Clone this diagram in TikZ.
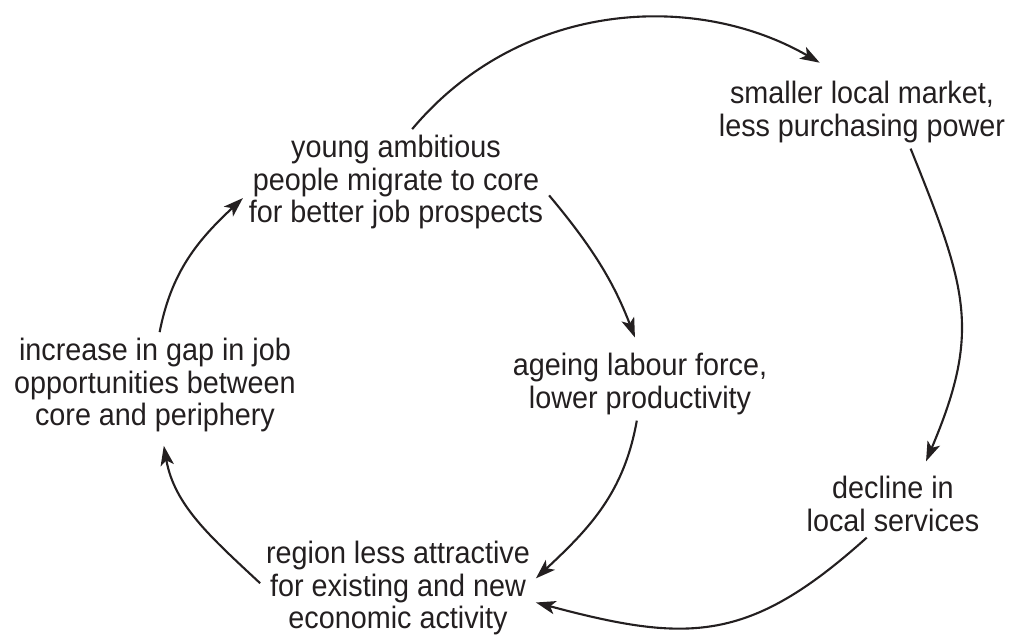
\documentclass[tikz,border=0pt]{standalone}
\usepackage{fontspec}
\setmainfont{Liberation Sans}[FakeStretch=0.93]
\usepackage{tikz}
\usetikzlibrary{arrows.meta}
\definecolor{ink}{RGB}{35,31,32}

\begin{document}
\begin{tikzpicture}[x=0.025cm,y=-0.025cm,line width=1.5pt,color=ink,
  every node/.style={align=center,inner sep=3.5pt,font=\fontsize{22}{23.1}\selectfont},
  >={Stealth[length=14pt,width=9.5pt,inset=3.5pt]}]
\useasboundingbox (0,0) rectangle (1021,644);
\node (mig) at (396,182) {young ambitious\\people migrate to core\\for better job prospects};
\node (mkt) at (862,112) {smaller local market,\\less purchasing power};
\node (gap) at (155,385) {increase in gap in job\\opportunities between\\core and periphery}; \node (age) at (640,384) {ageing labour force,\\lower productivity};
\node (svc) at (893,504) {decline in\\local services};
\node (reg) at (398,588) {region less attractive\\for existing and new\\economic activity};
\draw[->,shorten >=18pt] (mig.73) to[out=50,in=150] (mkt.119);
\draw[->,shorten >=7pt] (mkt.-37) to[out=-68,in=67,looseness=1.2] (svc.49);
\draw[->] (svc.232) to[out=222,in=-15,looseness=1.2] (reg.-6);
\draw[->] (age.265) to[out=260,in=43] (reg.4);
\draw[->,shorten >=5.7pt] (reg.178) to[out=137,in=-80] (gap.278);
\draw[->] (gap.85) to[out=79,in=-137] (mig.186);
\draw[->,shorten >=7.5pt] (mig.-5) to[out=-50,in=111] (age.92);
\end{tikzpicture}
\end{document}
